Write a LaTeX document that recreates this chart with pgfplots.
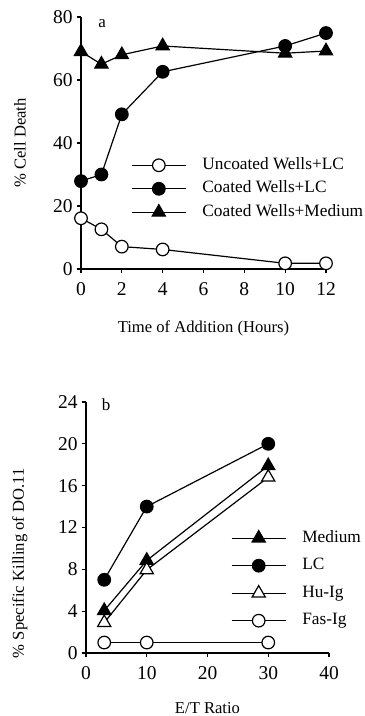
\documentclass[border=0pt]{standalone}
\usepackage{fontspec}
\setmainfont{Liberation Serif}
\usepackage{pgfplots}
\pgfplotsset{compat=1.18}
\pgfplotsset{
  mystyle/.style={
    scale only axis,
    axis x line=bottom, axis y line=left,
    axis line style={-, line width=1.2bp},
    tick align=outside,
    tick style={line width=1.2bp, black},
    major tick length=4bp,
    /pgf/number format/assume math mode=true,
    tick label style={font=\fontsize{19.5bp}{22bp}\selectfont},
    xticklabel style={yshift=-4bp},
    yticklabel style={xshift=1.5bp},
    label style={font=\fontsize{16.6bp}{20bp}\selectfont},
    every axis plot/.append style={line width=1.2bp, black, mark size=6.3bp},
    legend image code/.code={\draw[mark repeat=2,mark phase=2,##1] plot coordinates {(0bp,0bp) (27bp,0bp) (54bp,0bp)};},
    legend style={draw=none, fill=none, anchor=north west, column sep=16bp, legend cell align=left,
      font=\fontsize{17.3bp}{20bp}\selectfont,
      nodes={inner sep=0pt, text height=12bp, text depth=4bp}},
    clip=false,
  },
  opencirc/.style={mark=*, mark options={fill=white, solid}},
  fillcirc/.style={mark=*, mark options={fill=black, solid}},
  filltri/.style={mark=triangle*, mark size=7.6bp, mark options={fill=black, solid}},
  opentri/.style={mark=triangle*, mark size=7.6bp, mark options={fill=white, solid}},
}
\begin{document}
\fontsize{17bp}{20bp}\selectfont
\begin{tikzpicture}[font=\fontsize{17bp}{20bp}\selectfont]
\useasboundingbox (0,0) rectangle (365bp,716bp);
\begin{axis}[mystyle, at={(81bp,447bp)}, anchor=south west,
  width=245bp, height=252bp,
  xmin=0, xmax=12, ymin=0, ymax=80,
  xtick={0,2,...,12}, ytick={0,20,...,80},
  xlabel={Time of Addition (Hours)}, ylabel={\% Cell Death},
  xlabel style={at={(axis description cs:0.5,-0.234)}, anchor=center},
  ylabel style={at={(axis description cs:-0.249,0.5)}, anchor=center},
  legend style={at={(axis description cs:0.192,0.452)}, row sep=7.5bp},
]
\addplot[opencirc] coordinates {(0,16.1) (1,12.6) (2,7.1) (4,6.2) (10,1.8) (12,1.8)};
\addlegendentry{Uncoated Wells+LC}
\addplot[fillcirc] coordinates {(0,27.9) (1,30.0) (2,49.1) (4,62.6) (10,70.8) (12,74.9)};
\addlegendentry{Coated Wells+LC}
\addplot[filltri] coordinates {(0,69) (1,65) (2,68) (4,70.8) (10,68.5) (12,69.2)};
\addlegendentry{Coated Wells+Medium}
\node at (axis cs:1.03,78) {a};
\end{axis}
\begin{axis}[mystyle, at={(86bp,63bp)}, anchor=south west,
  width=243bp, height=251bp,
  xmin=0, xmax=40, ymin=0, ymax=24,
  xtick={0,10,...,40}, ytick={0,4,...,24},
  xlabel={E/T Ratio}, ylabel={\% Specific Killing of DO.11},
  xlabel style={at={(axis description cs:0.5,-0.219)}, anchor=center},
  ylabel style={at={(axis description cs:-0.272,0.358)}, anchor=center},
  legend style={at={(axis description cs:0.584,0.498)}, row sep=11.5bp},
]
\addplot[filltri] coordinates {(3,4.05) (10,8.85) (30,17.9)};
\addlegendentry{Medium}
\addplot[fillcirc] coordinates {(3,7.0) (10,14.0) (30,20.0)};
\addlegendentry{LC}
\addplot[opentri] coordinates {(3,2.9) (10,7.95) (30,16.8)};
\addlegendentry{Hu-Ig}
\addplot[opencirc] coordinates {(3,1) (10,1) (30,1)};
\addlegendentry{Fas-Ig}
\node at (axis cs:3.3,23.7) {b};
\end{axis}
\end{tikzpicture}
\end{document}
